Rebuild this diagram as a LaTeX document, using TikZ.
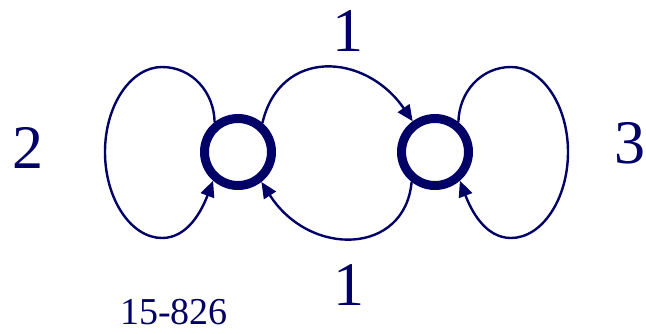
\documentclass[tikz,border=0pt]{standalone}
\usepackage{fontspec}
\setmainfont{Liberation Serif}
\usepackage{tikz}
\usetikzlibrary{arrows.meta}
\definecolor{navy}{HTML}{000066}

\begin{document}
\begin{tikzpicture}[x=1pt,y=-1pt,>={Triangle[length=16pt,width=14pt]},
  vertex/.style={circle,draw=navy,line width=9pt,minimum size=67pt,inner sep=0pt},
  edge/.style={->,navy,line width=2.4pt},
  weight/.style={text=navy,font=\fontsize{62}{62}\selectfont,inner sep=0pt}]
\useasboundingbox (0,0) rectangle (646,333);
\node[vertex] (L) at (238,152) {};
\node[vertex] (R) at (435,152) {};
\coordinate (lt) at (162,67);
\coordinate (lw) at (105,152);
\coordinate (lb) at (162,238);
\coordinate (rt) at (511,67);
\coordinate (rw) at (568,152);
\coordinate (rb) at (511,238);
% self loops
\draw[edge] (L.128) .. controls (214,92) and (192,67) .. (lt)
  .. controls (131,67) and (105,105) .. (lw)
  .. controls (105,199) and (131,238) .. (lb)
  .. controls (188,238) and (202,210) .. (L.229);
\draw[edge] (R.52) .. controls (459,92) and (481,67) .. (rt)
  .. controls (542,67) and (568,105) .. (rw)
  .. controls (568,199) and (542,238) .. (rb)
  .. controls (485,238) and (471,210) .. (R.-49);
% arcs between the two
\draw[edge] (L.50) .. controls (280,48) and (365,52) .. (R.126);
\draw[edge] (R.232) .. controls (405,255) and (310,258) .. (L.-52);
\node[weight] (w12) at (348,31) {1};
\node[weight] (w21) at (349,285) {1};
\node[weight] (w11) at (28,148) {2};
\node[weight] (w22) at (630,143) {3};
\node[text=navy,font=\fontsize{38}{38}\selectfont,inner sep=0pt] (tag) at (174,312) {15-826};
\end{tikzpicture}
\end{document}
